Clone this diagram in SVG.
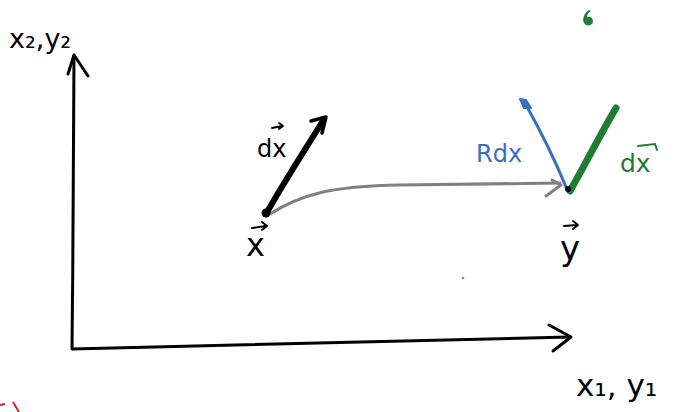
<svg xmlns="http://www.w3.org/2000/svg" width="676" height="412" viewBox="0 0 676 412">
<style>
.ink{fill:none;stroke:#000;stroke-linecap:round;stroke-linejoin:round}
.lbl{font-family:"DejaVu Sans","Liberation Sans",sans-serif;fill:#000}
.blue{fill:#3a6cc4}
.green{fill:#1e7d32}
</style>
<rect width="676" height="412" fill="#fff"/>
<g id="connectors">
  <g id="y-axis">
    <path class="ink" stroke-width="3" d="M72,348 C73,250 74,150 74,56"/>
    <path class="ink" stroke-width="3" d="M68,74 L74,55 L88,76"/>
  </g>
  <g id="x-axis">
    <path class="ink" stroke-width="3" d="M72,349 C250,346 420,341 570,337"/>
    <path class="ink" stroke-width="3" d="M549,325 L571,337 L553,351"/>
  </g>
  <g id="dx-vector">
    <path class="ink" stroke-width="6" d="M266,214 C285,180 305,150 324,119"/>
    <path class="ink" stroke-width="3.5" d="M311,121 L326,117 L322,133"/>
  </g>
  <g id="map-curve">
    <path fill="none" stroke="#808080" stroke-width="3" stroke-linecap="round" d="M270,214 C300,195 330,186 400,185 C470,184 520,183 560,183"/>
    <path fill="none" stroke="#808080" stroke-width="3" stroke-linecap="round" stroke-linejoin="round" d="M546,196 L561,185 L552,180"/>
  </g>
  <g id="rdx-vector">
    <path fill="none" stroke="#3a6cc4" stroke-width="3" stroke-linecap="round" d="M566,187 C555,160 540,130 525,103"/>
    <path fill="#3a6cc4" stroke="#3a6cc4" stroke-width="2" stroke-linejoin="round" d="M520,99 L526,100 L531,108 L524,108 Z"/>
  </g>
  <g id="dx-image-vector">
    <path fill="none" stroke="#1e7d32" stroke-width="7" stroke-linecap="round" d="M570,191 C585,165 600,135 616,108"/>
  </g>
</g>
<g id="node-axis-labels">
  <text class="lbl" x="9" y="48" font-size="27">x₂,y₂</text>
  <text class="lbl" x="576" y="396" font-size="31">x₁, y₁</text>
</g>
<g id="node-x">
  <circle cx="266" cy="213" r="4.5" fill="#000"/>
  <text class="lbl" x="246" y="256" font-size="32">x</text>
  <path class="ink" stroke-width="2" d="M252,228 L266,226 M262,222 L267,226 L262,230"/>
</g>
<g id="node-dx-label">
  <text class="lbl" x="257" y="157" font-size="24">dx</text>
  <path class="ink" stroke-width="1.8" d="M272,128 L282,126 M279,123 L283,126 L279,129"/>
</g>
<g id="node-y">
  <circle cx="568" cy="189" r="3" fill="#000"/>
  <text class="lbl" x="560" y="260" font-size="34">y</text>
  <path class="ink" stroke-width="2" d="M564,226 L577,225 M573,221 L578,225 L573,229"/>
</g>
<g id="node-rdx-label">
  <text class="lbl blue" x="476" y="162" font-size="24">Rdx</text>
</g>
<g id="node-dx-green-label">
  <text class="lbl green" x="620" y="172" font-size="25">dx</text>
  <path fill="none" stroke="#1e7d32" stroke-width="2" stroke-linecap="round" d="M638,146 L655,144 L657,150"/>
</g>
<g id="marks">
  <circle cx="463" cy="278" r="1.3" fill="#888"/>
  <path fill="#1e7d32" d="M589,10 C584,13 582,19 584,23 C586,27 593,26 593,21 C593,17 589,16 587,17 C587,14 589,12 591,11 Z"/>
  <path fill="none" stroke="#e02020" stroke-width="2" d="M0,405 L5,404 M13,402 L19,412"/>
</g>
</svg>
